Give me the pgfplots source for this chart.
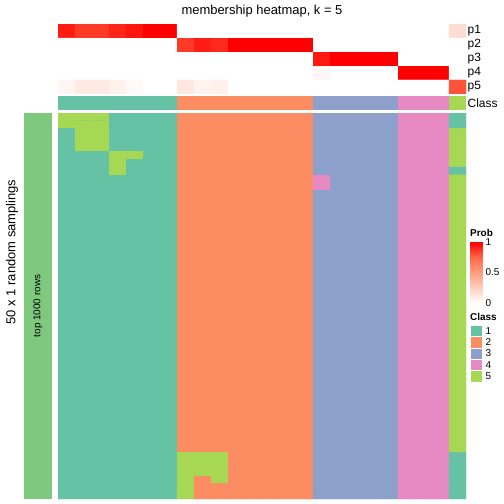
\documentclass[border=0pt]{standalone}
\usepackage{fontspec}
\setmainfont{Liberation Sans}
\usepackage{pgfplots}
\pgfplotsset{compat=1.18}
\definecolor{cA}{RGB}{102,194,165}
\definecolor{cB}{RGB}{252,141,98}
\definecolor{cC}{RGB}{141,160,203}
\definecolor{cD}{RGB}{231,138,195}
\definecolor{cE}{RGB}{166,216,84}
\definecolor{topbar}{RGB}{127,201,127}
\pgfplotsset{
  hm/.style={scale only axis, hide axis, enlargelimits=false, anchor=north west, y dir=reverse},
  probmap/.style={colormap={whitered}{rgb255=(255,255,255) rgb255=(255,207,191) rgb255=(255,158,129) rgb255=(255,103,70) rgb255=(255,0,0)}},
  classmap/.style={colormap={set2}{rgb255=(102,194,165) rgb255=(252,141,98) rgb255=(141,160,203) rgb255=(231,138,195) rgb255=(166,216,84)}},
}
\begin{document}
\begin{tikzpicture}
\path[use as bounding box] (0,0) rectangle (504bp,-504bp);

% ---- membership probabilities p1..p5 (x = sample, y = row, c = probability) ----
\begin{axis}[hm, at={(58bp,-24bp)}, width=408bp, height=70bp,
  xmin=-0.5, xmax=23.5, ymin=-0.5, ymax=4.5,
  probmap, point meta min=0, point meta max=1]
\addplot[matrix plot, mesh/cols=24, point meta=explicit]
 table[row sep=\\, x=x, y=y, meta=c] {
x y c\\
0 0 0.93\\1 0 0.86\\2 0 0.86\\3 0 0.91\\4 0 0.95\\5 0 1\\6 0 1\\7 0 0\\8 0 0\\9 0 0\\10 0 0\\11 0 0\\12 0 0\\13 0 0\\14 0 0\\15 0 0\\16 0 0\\17 0 0\\18 0 0\\19 0 0\\20 0 0\\21 0 0\\22 0 0\\23 0 0.18\\
0 1 0\\1 1 0\\2 1 0\\3 1 0\\4 1 0\\5 1 0\\6 1 0\\7 1 0.86\\8 1 0.93\\9 1 0.9\\10 1 1\\11 1 1\\12 1 1\\13 1 1\\14 1 1\\15 1 0\\16 1 0\\17 1 0\\18 1 0\\19 1 0\\20 1 0\\21 1 0\\22 1 0\\23 1 0\\
0 2 0\\1 2 0\\2 2 0\\3 2 0\\4 2 0\\5 2 0\\6 2 0\\7 2 0\\8 2 0\\9 2 0\\10 2 0\\11 2 0\\12 2 0\\13 2 0\\14 2 0\\15 2 0.94\\16 2 1\\17 2 1\\18 2 1\\19 2 1\\20 2 0\\21 2 0\\22 2 0\\23 2 0\\
0 3 0\\1 3 0\\2 3 0\\3 3 0\\4 3 0\\5 3 0\\6 3 0\\7 3 0\\8 3 0\\9 3 0\\10 3 0\\11 3 0\\12 3 0\\13 3 0\\14 3 0\\15 3 0.04\\16 3 0\\17 3 0\\18 3 0\\19 3 0\\20 3 1\\21 3 1\\22 3 1\\23 3 0\\
0 4 0.05\\1 4 0.11\\2 4 0.11\\3 4 0.07\\4 4 0.03\\5 4 0\\6 4 0\\7 4 0.12\\8 4 0.06\\9 4 0.08\\10 4 0\\11 4 0\\12 4 0\\13 4 0\\14 4 0\\15 4 0\\16 4 0\\17 4 0\\18 4 0\\19 4 0\\20 4 0\\21 4 0\\22 4 0\\23 4 0.8\\
};
\end{axis}

% ---- class annotation row ----
\begin{axis}[hm, at={(58bp,-96bp)}, width=408bp, height=14bp,
  xmin=-0.5, xmax=23.5, ymin=0, ymax=1]
\addplot[fill=cA, draw=none] coordinates {(-0.5,0) (6.5,0) (6.5,1) (-0.5,1)} -- cycle;
\addplot[fill=cB, draw=none] coordinates {(6.5,0) (14.5,0) (14.5,1) (6.5,1)} -- cycle;
\addplot[fill=cC, draw=none] coordinates {(14.5,0) (19.5,0) (19.5,1) (14.5,1)} -- cycle;
\addplot[fill=cD, draw=none] coordinates {(19.5,0) (22.5,0) (22.5,1) (19.5,1)} -- cycle;
\addplot[fill=cE, draw=none] coordinates {(22.5,0) (23.5,0) (23.5,1) (22.5,1)} -- cycle;
\end{axis}

% ---- body: 50 random samplings x 24 samples (c = class) ----
\begin{axis}[hm, at={(58bp,-113bp)}, width=408bp, height=386bp,
  xmin=-0.5, xmax=23.5, ymin=-0.5, ymax=49.5,
  classmap, point meta min=1, point meta max=5]
% background blocks of the consensus classes (hide anti-aliasing seams)
\addplot[fill=cA, draw=none] coordinates {(-0.5,-0.5) (6.5,-0.5) (6.5,49.5) (-0.5,49.5)} -- cycle;
\addplot[fill=cB, draw=none] coordinates {(6.5,-0.5) (14.5,-0.5) (14.5,49.5) (6.5,49.5)} -- cycle;
\addplot[fill=cC, draw=none] coordinates {(14.5,-0.5) (19.5,-0.5) (19.5,49.5) (14.5,49.5)} -- cycle;
\addplot[fill=cD, draw=none] coordinates {(19.5,-0.5) (22.5,-0.5) (22.5,49.5) (19.5,49.5)} -- cycle;
\addplot[fill=cE, draw=none] coordinates {(22.5,-0.5) (23.5,-0.5) (23.5,49.5) (22.5,49.5)} -- cycle;
\addplot[matrix plot, mesh/cols=24, point meta=explicit]
 table[row sep=\\, x=x, y=y, meta=c] {
x y c\\
0 0 5\\1 0 5\\2 0 5\\3 0 1\\4 0 1\\5 0 1\\6 0 1\\7 0 2\\8 0 2\\9 0 2\\10 0 2\\11 0 2\\12 0 2\\13 0 2\\14 0 2\\15 0 3\\16 0 3\\17 0 3\\18 0 3\\19 0 3\\20 0 4\\21 0 4\\22 0 4\\23 0 1\\
0 1 5\\1 1 5\\2 1 5\\3 1 1\\4 1 1\\5 1 1\\6 1 1\\7 1 2\\8 1 2\\9 1 2\\10 1 2\\11 1 2\\12 1 2\\13 1 2\\14 1 2\\15 1 3\\16 1 3\\17 1 3\\18 1 3\\19 1 3\\20 1 4\\21 1 4\\22 1 4\\23 1 1\\
0 2 1\\1 2 5\\2 2 5\\3 2 1\\4 2 1\\5 2 1\\6 2 1\\7 2 2\\8 2 2\\9 2 2\\10 2 2\\11 2 2\\12 2 2\\13 2 2\\14 2 2\\15 2 3\\16 2 3\\17 2 3\\18 2 3\\19 2 3\\20 2 4\\21 2 4\\22 2 4\\23 2 5\\
0 3 1\\1 3 5\\2 3 5\\3 3 1\\4 3 1\\5 3 1\\6 3 1\\7 3 2\\8 3 2\\9 3 2\\10 3 2\\11 3 2\\12 3 2\\13 3 2\\14 3 2\\15 3 3\\16 3 3\\17 3 3\\18 3 3\\19 3 3\\20 3 4\\21 3 4\\22 3 4\\23 3 5\\
0 4 1\\1 4 5\\2 4 5\\3 4 1\\4 4 1\\5 4 1\\6 4 1\\7 4 2\\8 4 2\\9 4 2\\10 4 2\\11 4 2\\12 4 2\\13 4 2\\14 4 2\\15 4 3\\16 4 3\\17 4 3\\18 4 3\\19 4 3\\20 4 4\\21 4 4\\22 4 4\\23 4 5\\
0 5 1\\1 5 1\\2 5 1\\3 5 5\\4 5 5\\5 5 1\\6 5 1\\7 5 2\\8 5 2\\9 5 2\\10 5 2\\11 5 2\\12 5 2\\13 5 2\\14 5 2\\15 5 3\\16 5 3\\17 5 3\\18 5 3\\19 5 3\\20 5 4\\21 5 4\\22 5 4\\23 5 5\\
0 6 1\\1 6 1\\2 6 1\\3 6 5\\4 6 1\\5 6 1\\6 6 1\\7 6 2\\8 6 2\\9 6 2\\10 6 2\\11 6 2\\12 6 2\\13 6 2\\14 6 2\\15 6 3\\16 6 3\\17 6 3\\18 6 3\\19 6 3\\20 6 4\\21 6 4\\22 6 4\\23 6 5\\
0 7 1\\1 7 1\\2 7 1\\3 7 5\\4 7 1\\5 7 1\\6 7 1\\7 7 2\\8 7 2\\9 7 2\\10 7 2\\11 7 2\\12 7 2\\13 7 2\\14 7 2\\15 7 3\\16 7 3\\17 7 3\\18 7 3\\19 7 3\\20 7 4\\21 7 4\\22 7 4\\23 7 1\\
0 8 1\\1 8 1\\2 8 1\\3 8 1\\4 8 1\\5 8 1\\6 8 1\\7 8 2\\8 8 2\\9 8 2\\10 8 2\\11 8 2\\12 8 2\\13 8 2\\14 8 2\\15 8 4\\16 8 3\\17 8 3\\18 8 3\\19 8 3\\20 8 4\\21 8 4\\22 8 4\\23 8 5\\
0 9 1\\1 9 1\\2 9 1\\3 9 1\\4 9 1\\5 9 1\\6 9 1\\7 9 2\\8 9 2\\9 9 2\\10 9 2\\11 9 2\\12 9 2\\13 9 2\\14 9 2\\15 9 4\\16 9 3\\17 9 3\\18 9 3\\19 9 3\\20 9 4\\21 9 4\\22 9 4\\23 9 5\\
0 10 1\\1 10 1\\2 10 1\\3 10 1\\4 10 1\\5 10 1\\6 10 1\\7 10 2\\8 10 2\\9 10 2\\10 10 2\\11 10 2\\12 10 2\\13 10 2\\14 10 2\\15 10 3\\16 10 3\\17 10 3\\18 10 3\\19 10 3\\20 10 4\\21 10 4\\22 10 4\\23 10 5\\
0 11 1\\1 11 1\\2 11 1\\3 11 1\\4 11 1\\5 11 1\\6 11 1\\7 11 2\\8 11 2\\9 11 2\\10 11 2\\11 11 2\\12 11 2\\13 11 2\\14 11 2\\15 11 3\\16 11 3\\17 11 3\\18 11 3\\19 11 3\\20 11 4\\21 11 4\\22 11 4\\23 11 5\\
0 12 1\\1 12 1\\2 12 1\\3 12 1\\4 12 1\\5 12 1\\6 12 1\\7 12 2\\8 12 2\\9 12 2\\10 12 2\\11 12 2\\12 12 2\\13 12 2\\14 12 2\\15 12 3\\16 12 3\\17 12 3\\18 12 3\\19 12 3\\20 12 4\\21 12 4\\22 12 4\\23 12 5\\
0 13 1\\1 13 1\\2 13 1\\3 13 1\\4 13 1\\5 13 1\\6 13 1\\7 13 2\\8 13 2\\9 13 2\\10 13 2\\11 13 2\\12 13 2\\13 13 2\\14 13 2\\15 13 3\\16 13 3\\17 13 3\\18 13 3\\19 13 3\\20 13 4\\21 13 4\\22 13 4\\23 13 5\\
0 14 1\\1 14 1\\2 14 1\\3 14 1\\4 14 1\\5 14 1\\6 14 1\\7 14 2\\8 14 2\\9 14 2\\10 14 2\\11 14 2\\12 14 2\\13 14 2\\14 14 2\\15 14 3\\16 14 3\\17 14 3\\18 14 3\\19 14 3\\20 14 4\\21 14 4\\22 14 4\\23 14 5\\
0 15 1\\1 15 1\\2 15 1\\3 15 1\\4 15 1\\5 15 1\\6 15 1\\7 15 2\\8 15 2\\9 15 2\\10 15 2\\11 15 2\\12 15 2\\13 15 2\\14 15 2\\15 15 3\\16 15 3\\17 15 3\\18 15 3\\19 15 3\\20 15 4\\21 15 4\\22 15 4\\23 15 5\\
0 16 1\\1 16 1\\2 16 1\\3 16 1\\4 16 1\\5 16 1\\6 16 1\\7 16 2\\8 16 2\\9 16 2\\10 16 2\\11 16 2\\12 16 2\\13 16 2\\14 16 2\\15 16 3\\16 16 3\\17 16 3\\18 16 3\\19 16 3\\20 16 4\\21 16 4\\22 16 4\\23 16 5\\
0 17 1\\1 17 1\\2 17 1\\3 17 1\\4 17 1\\5 17 1\\6 17 1\\7 17 2\\8 17 2\\9 17 2\\10 17 2\\11 17 2\\12 17 2\\13 17 2\\14 17 2\\15 17 3\\16 17 3\\17 17 3\\18 17 3\\19 17 3\\20 17 4\\21 17 4\\22 17 4\\23 17 5\\
0 18 1\\1 18 1\\2 18 1\\3 18 1\\4 18 1\\5 18 1\\6 18 1\\7 18 2\\8 18 2\\9 18 2\\10 18 2\\11 18 2\\12 18 2\\13 18 2\\14 18 2\\15 18 3\\16 18 3\\17 18 3\\18 18 3\\19 18 3\\20 18 4\\21 18 4\\22 18 4\\23 18 5\\
0 19 1\\1 19 1\\2 19 1\\3 19 1\\4 19 1\\5 19 1\\6 19 1\\7 19 2\\8 19 2\\9 19 2\\10 19 2\\11 19 2\\12 19 2\\13 19 2\\14 19 2\\15 19 3\\16 19 3\\17 19 3\\18 19 3\\19 19 3\\20 19 4\\21 19 4\\22 19 4\\23 19 5\\
0 20 1\\1 20 1\\2 20 1\\3 20 1\\4 20 1\\5 20 1\\6 20 1\\7 20 2\\8 20 2\\9 20 2\\10 20 2\\11 20 2\\12 20 2\\13 20 2\\14 20 2\\15 20 3\\16 20 3\\17 20 3\\18 20 3\\19 20 3\\20 20 4\\21 20 4\\22 20 4\\23 20 5\\
0 21 1\\1 21 1\\2 21 1\\3 21 1\\4 21 1\\5 21 1\\6 21 1\\7 21 2\\8 21 2\\9 21 2\\10 21 2\\11 21 2\\12 21 2\\13 21 2\\14 21 2\\15 21 3\\16 21 3\\17 21 3\\18 21 3\\19 21 3\\20 21 4\\21 21 4\\22 21 4\\23 21 5\\
0 22 1\\1 22 1\\2 22 1\\3 22 1\\4 22 1\\5 22 1\\6 22 1\\7 22 2\\8 22 2\\9 22 2\\10 22 2\\11 22 2\\12 22 2\\13 22 2\\14 22 2\\15 22 3\\16 22 3\\17 22 3\\18 22 3\\19 22 3\\20 22 4\\21 22 4\\22 22 4\\23 22 5\\
0 23 1\\1 23 1\\2 23 1\\3 23 1\\4 23 1\\5 23 1\\6 23 1\\7 23 2\\8 23 2\\9 23 2\\10 23 2\\11 23 2\\12 23 2\\13 23 2\\14 23 2\\15 23 3\\16 23 3\\17 23 3\\18 23 3\\19 23 3\\20 23 4\\21 23 4\\22 23 4\\23 23 5\\
0 24 1\\1 24 1\\2 24 1\\3 24 1\\4 24 1\\5 24 1\\6 24 1\\7 24 2\\8 24 2\\9 24 2\\10 24 2\\11 24 2\\12 24 2\\13 24 2\\14 24 2\\15 24 3\\16 24 3\\17 24 3\\18 24 3\\19 24 3\\20 24 4\\21 24 4\\22 24 4\\23 24 5\\
0 25 1\\1 25 1\\2 25 1\\3 25 1\\4 25 1\\5 25 1\\6 25 1\\7 25 2\\8 25 2\\9 25 2\\10 25 2\\11 25 2\\12 25 2\\13 25 2\\14 25 2\\15 25 3\\16 25 3\\17 25 3\\18 25 3\\19 25 3\\20 25 4\\21 25 4\\22 25 4\\23 25 5\\
0 26 1\\1 26 1\\2 26 1\\3 26 1\\4 26 1\\5 26 1\\6 26 1\\7 26 2\\8 26 2\\9 26 2\\10 26 2\\11 26 2\\12 26 2\\13 26 2\\14 26 2\\15 26 3\\16 26 3\\17 26 3\\18 26 3\\19 26 3\\20 26 4\\21 26 4\\22 26 4\\23 26 5\\
0 27 1\\1 27 1\\2 27 1\\3 27 1\\4 27 1\\5 27 1\\6 27 1\\7 27 2\\8 27 2\\9 27 2\\10 27 2\\11 27 2\\12 27 2\\13 27 2\\14 27 2\\15 27 3\\16 27 3\\17 27 3\\18 27 3\\19 27 3\\20 27 4\\21 27 4\\22 27 4\\23 27 5\\
0 28 1\\1 28 1\\2 28 1\\3 28 1\\4 28 1\\5 28 1\\6 28 1\\7 28 2\\8 28 2\\9 28 2\\10 28 2\\11 28 2\\12 28 2\\13 28 2\\14 28 2\\15 28 3\\16 28 3\\17 28 3\\18 28 3\\19 28 3\\20 28 4\\21 28 4\\22 28 4\\23 28 5\\
0 29 1\\1 29 1\\2 29 1\\3 29 1\\4 29 1\\5 29 1\\6 29 1\\7 29 2\\8 29 2\\9 29 2\\10 29 2\\11 29 2\\12 29 2\\13 29 2\\14 29 2\\15 29 3\\16 29 3\\17 29 3\\18 29 3\\19 29 3\\20 29 4\\21 29 4\\22 29 4\\23 29 5\\
0 30 1\\1 30 1\\2 30 1\\3 30 1\\4 30 1\\5 30 1\\6 30 1\\7 30 2\\8 30 2\\9 30 2\\10 30 2\\11 30 2\\12 30 2\\13 30 2\\14 30 2\\15 30 3\\16 30 3\\17 30 3\\18 30 3\\19 30 3\\20 30 4\\21 30 4\\22 30 4\\23 30 5\\
0 31 1\\1 31 1\\2 31 1\\3 31 1\\4 31 1\\5 31 1\\6 31 1\\7 31 2\\8 31 2\\9 31 2\\10 31 2\\11 31 2\\12 31 2\\13 31 2\\14 31 2\\15 31 3\\16 31 3\\17 31 3\\18 31 3\\19 31 3\\20 31 4\\21 31 4\\22 31 4\\23 31 5\\
0 32 1\\1 32 1\\2 32 1\\3 32 1\\4 32 1\\5 32 1\\6 32 1\\7 32 2\\8 32 2\\9 32 2\\10 32 2\\11 32 2\\12 32 2\\13 32 2\\14 32 2\\15 32 3\\16 32 3\\17 32 3\\18 32 3\\19 32 3\\20 32 4\\21 32 4\\22 32 4\\23 32 5\\
0 33 1\\1 33 1\\2 33 1\\3 33 1\\4 33 1\\5 33 1\\6 33 1\\7 33 2\\8 33 2\\9 33 2\\10 33 2\\11 33 2\\12 33 2\\13 33 2\\14 33 2\\15 33 3\\16 33 3\\17 33 3\\18 33 3\\19 33 3\\20 33 4\\21 33 4\\22 33 4\\23 33 5\\
0 34 1\\1 34 1\\2 34 1\\3 34 1\\4 34 1\\5 34 1\\6 34 1\\7 34 2\\8 34 2\\9 34 2\\10 34 2\\11 34 2\\12 34 2\\13 34 2\\14 34 2\\15 34 3\\16 34 3\\17 34 3\\18 34 3\\19 34 3\\20 34 4\\21 34 4\\22 34 4\\23 34 5\\
0 35 1\\1 35 1\\2 35 1\\3 35 1\\4 35 1\\5 35 1\\6 35 1\\7 35 2\\8 35 2\\9 35 2\\10 35 2\\11 35 2\\12 35 2\\13 35 2\\14 35 2\\15 35 3\\16 35 3\\17 35 3\\18 35 3\\19 35 3\\20 35 4\\21 35 4\\22 35 4\\23 35 5\\
0 36 1\\1 36 1\\2 36 1\\3 36 1\\4 36 1\\5 36 1\\6 36 1\\7 36 2\\8 36 2\\9 36 2\\10 36 2\\11 36 2\\12 36 2\\13 36 2\\14 36 2\\15 36 3\\16 36 3\\17 36 3\\18 36 3\\19 36 3\\20 36 4\\21 36 4\\22 36 4\\23 36 5\\
0 37 1\\1 37 1\\2 37 1\\3 37 1\\4 37 1\\5 37 1\\6 37 1\\7 37 2\\8 37 2\\9 37 2\\10 37 2\\11 37 2\\12 37 2\\13 37 2\\14 37 2\\15 37 3\\16 37 3\\17 37 3\\18 37 3\\19 37 3\\20 37 4\\21 37 4\\22 37 4\\23 37 5\\
0 38 1\\1 38 1\\2 38 1\\3 38 1\\4 38 1\\5 38 1\\6 38 1\\7 38 2\\8 38 2\\9 38 2\\10 38 2\\11 38 2\\12 38 2\\13 38 2\\14 38 2\\15 38 3\\16 38 3\\17 38 3\\18 38 3\\19 38 3\\20 38 4\\21 38 4\\22 38 4\\23 38 5\\
0 39 1\\1 39 1\\2 39 1\\3 39 1\\4 39 1\\5 39 1\\6 39 1\\7 39 2\\8 39 2\\9 39 2\\10 39 2\\11 39 2\\12 39 2\\13 39 2\\14 39 2\\15 39 3\\16 39 3\\17 39 3\\18 39 3\\19 39 3\\20 39 4\\21 39 4\\22 39 4\\23 39 5\\
0 40 1\\1 40 1\\2 40 1\\3 40 1\\4 40 1\\5 40 1\\6 40 1\\7 40 2\\8 40 2\\9 40 2\\10 40 2\\11 40 2\\12 40 2\\13 40 2\\14 40 2\\15 40 3\\16 40 3\\17 40 3\\18 40 3\\19 40 3\\20 40 4\\21 40 4\\22 40 4\\23 40 5\\
0 41 1\\1 41 1\\2 41 1\\3 41 1\\4 41 1\\5 41 1\\6 41 1\\7 41 2\\8 41 2\\9 41 2\\10 41 2\\11 41 2\\12 41 2\\13 41 2\\14 41 2\\15 41 3\\16 41 3\\17 41 3\\18 41 3\\19 41 3\\20 41 4\\21 41 4\\22 41 4\\23 41 5\\
0 42 1\\1 42 1\\2 42 1\\3 42 1\\4 42 1\\5 42 1\\6 42 1\\7 42 2\\8 42 2\\9 42 2\\10 42 2\\11 42 2\\12 42 2\\13 42 2\\14 42 2\\15 42 3\\16 42 3\\17 42 3\\18 42 3\\19 42 3\\20 42 4\\21 42 4\\22 42 4\\23 42 5\\
0 43 1\\1 43 1\\2 43 1\\3 43 1\\4 43 1\\5 43 1\\6 43 1\\7 43 2\\8 43 2\\9 43 2\\10 43 2\\11 43 2\\12 43 2\\13 43 2\\14 43 2\\15 43 3\\16 43 3\\17 43 3\\18 43 3\\19 43 3\\20 43 4\\21 43 4\\22 43 4\\23 43 5\\
0 44 1\\1 44 1\\2 44 1\\3 44 1\\4 44 1\\5 44 1\\6 44 1\\7 44 5\\8 44 5\\9 44 5\\10 44 2\\11 44 2\\12 44 2\\13 44 2\\14 44 2\\15 44 3\\16 44 3\\17 44 3\\18 44 3\\19 44 3\\20 44 4\\21 44 4\\22 44 4\\23 44 1\\
0 45 1\\1 45 1\\2 45 1\\3 45 1\\4 45 1\\5 45 1\\6 45 1\\7 45 5\\8 45 5\\9 45 5\\10 45 2\\11 45 2\\12 45 2\\13 45 2\\14 45 2\\15 45 3\\16 45 3\\17 45 3\\18 45 3\\19 45 3\\20 45 4\\21 45 4\\22 45 4\\23 45 1\\
0 46 1\\1 46 1\\2 46 1\\3 46 1\\4 46 1\\5 46 1\\6 46 1\\7 46 5\\8 46 5\\9 46 5\\10 46 2\\11 46 2\\12 46 2\\13 46 2\\14 46 2\\15 46 3\\16 46 3\\17 46 3\\18 46 3\\19 46 3\\20 46 4\\21 46 4\\22 46 4\\23 46 1\\
0 47 1\\1 47 1\\2 47 1\\3 47 1\\4 47 1\\5 47 1\\6 47 1\\7 47 5\\8 47 2\\9 47 5\\10 47 2\\11 47 2\\12 47 2\\13 47 2\\14 47 2\\15 47 3\\16 47 3\\17 47 3\\18 47 3\\19 47 3\\20 47 4\\21 47 4\\22 47 4\\23 47 1\\
0 48 1\\1 48 1\\2 48 1\\3 48 1\\4 48 1\\5 48 1\\6 48 1\\7 48 5\\8 48 2\\9 48 2\\10 48 2\\11 48 2\\12 48 2\\13 48 2\\14 48 2\\15 48 3\\16 48 3\\17 48 3\\18 48 3\\19 48 3\\20 48 4\\21 48 4\\22 48 4\\23 48 1\\
0 49 1\\1 49 1\\2 49 1\\3 49 1\\4 49 1\\5 49 1\\6 49 1\\7 49 5\\8 49 2\\9 49 2\\10 49 2\\11 49 2\\12 49 2\\13 49 2\\14 49 2\\15 49 3\\16 49 3\\17 49 3\\18 49 3\\19 49 3\\20 49 4\\21 49 4\\22 49 4\\23 49 1\\
};
\end{axis}

% ---- left bar ----
\begin{axis}[hm, at={(24bp,-113bp)}, width=28bp, height=386bp,
  xmin=0, xmax=1, ymin=0, ymax=1]
\addplot[fill=topbar, draw=none] coordinates {(0,0) (1,0) (1,1) (0,1)} -- cycle;
\node[rotate=90, font=\fontsize{10}{12}\selectfont] at (axis cs:0.5,0.5) {top 1000 rows};
\end{axis}

% ---- Prob legend ----
\begin{axis}[scale only axis, anchor=north west, at={(470bp,-242bp)}, width=12bp, height=61bp,
  xmin=0, xmax=1, ymin=0, ymax=1, enlargelimits=false,
  probmap, point meta min=0, point meta max=1,
  xtick=\empty, ytick={0,0.5,1}, yticklabels={0,0.5,1},
  yticklabel pos=right, ytick pos=both, tick align=inside,
  major tick length=2.5bp, tick style={white, line width=0.8bp},
  axis line style={draw=none},
  yticklabel style={font=\fontsize{10}{12}\selectfont}]
\addplot[surf, shader=interp, mesh/cols=2, point meta=explicit] coordinates {(0,0) [0] (1,0) [0] (0,1) [1] (1,1) [1]};
\end{axis}

% ---- Class legend ----
\begin{axis}[scale only axis, anchor=north west, at={(470bp,-325.3bp)}, width=12bp, height=56.5bp,
  xmin=0, xmax=1, ymin=0, ymax=5, enlargelimits=false, y dir=reverse,
  xtick=\empty, ytick={0.5,1.5,2.5,3.5,4.5}, yticklabels={1,2,3,4,5},
  yticklabel pos=right, major tick length=0pt, axis line style={draw=none},
  yticklabel style={font=\fontsize{10}{12}\selectfont}]
\addplot[fill=cA, draw=white, line width=0.6bp] coordinates {(0,0) (1,0) (1,1) (0,1)} -- cycle;
\addplot[fill=cB, draw=white, line width=0.6bp] coordinates {(0,1) (1,1) (1,2) (0,2)} -- cycle;
\addplot[fill=cC, draw=white, line width=0.6bp] coordinates {(0,2) (1,2) (1,3) (0,3)} -- cycle;
\addplot[fill=cD, draw=white, line width=0.6bp] coordinates {(0,3) (1,3) (1,4) (0,4)} -- cycle;
\addplot[fill=cE, draw=white, line width=0.6bp] coordinates {(0,4) (1,4) (1,5) (0,5)} -- cycle;
\end{axis}

% ---- texts ----
\node[font=\fontsize{13}{15}\selectfont] at (262bp,-11bp) {membership heatmap, k = 5};
\node[rotate=90, font=\fontsize{13}{15}\selectfont] at (12bp,-252bp) {50 x 1 random samplings};
\begin{scope}[every node/.style={anchor=west, inner sep=0pt, font=\fontsize{12}{14}\selectfont}]
\node at (467.5bp,-31bp) {p1};
\node at (467.5bp,-45bp) {p2};
\node at (467.5bp,-59bp) {p3};
\node at (467.5bp,-73bp) {p4};
\node at (467.5bp,-87bp) {p5};
\node at (467.5bp,-103bp) {Class};
\end{scope}
\node[anchor=west, inner sep=0pt, font=\bfseries\fontsize{10}{12}\selectfont] at (470bp,-233bp) {Prob};
\node[anchor=west, inner sep=0pt, font=\bfseries\fontsize{10}{12}\selectfont] at (470bp,-317bp) {Class};
\end{tikzpicture}
\end{document}
